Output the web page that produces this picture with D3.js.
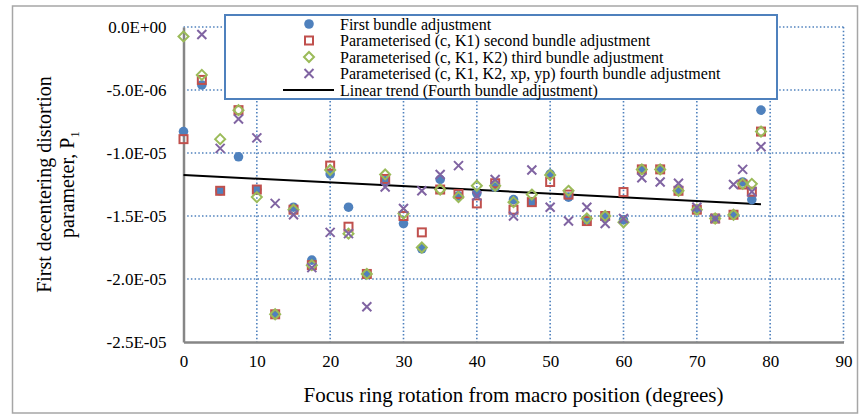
<!DOCTYPE html>
<html>
<head>
<meta charset="utf-8">
<script src="https://cdn.jsdelivr.net/npm/d3@7"></script>
<style>
  html, body { margin: 0; padding: 0; background: #fff; }
  svg { display: block; }
  text { font-family: "Liberation Serif", "Times New Roman", serif; fill: #000; }
</style>
</head>
<body>
<div id="chart"></div>
<script>
// ---- data (values in units of 1e-6 are scaled below) ----
const xValues = [0, 2.5, 5, 7.5, 10, 12.5, 15, 17.5, 20, 22.5, 25, 27.5, 30, 32.5, 35, 37.5, 40,
  42.5, 45, 47.5, 50, 52.5, 55, 57.5, 60, 62.5, 65, 67.5, 70, 72.5, 75, 76.25, 77.5, 78.75];

const firstBA = [-8.3, -4.6, -13.0, -10.3, -12.9, -22.8, -14.3, -18.5, -11.67, -14.3, -19.6, -12.2,
  -15.6, -17.6, -12.1, -13.4, -13.2, -12.7, -13.7, -13.9, -11.67, -13.5, -15.3, -15.0, -15.3,
  -11.3, -11.3, -13.0, -14.5, -15.2, -14.9, -12.3, -13.7, -6.6];

const secondBA = [-8.9, -4.2, -13.0, -6.6, -12.9, -22.8, -14.5, -18.9, -11.0, -15.85, -19.6, -12.06,
  -15.0, -16.3, -12.9, -13.25, -14.0, -12.4, -14.5, -13.9, -12.3, -13.3, -15.4, -15.0, -13.1,
  -11.3, -11.3, -13.0, -14.5, -15.2, -14.9, -12.5, -13.07, -8.3];

const thirdBA = [-0.75, -3.8, -8.9, -6.6, -13.5, -22.8, -14.5, -18.9, -11.35, -16.4, -19.6, -11.7,
  -14.8, -17.5, -12.9, -13.5, -12.6, -12.6, -13.9, -13.3, -11.75, -13.0, -15.2, -15.0, -15.5,
  -11.3, -11.3, -13.0, -14.5, -15.2, -14.9, -12.45, -12.45, -8.3];

const fourthBA = [null, -0.6, -9.63, -7.3, -8.8, -14.0, -14.9, -19.1, -16.3, -16.4, -22.2, -12.7,
  -14.4, -13.0, -11.7, -11.0, -13.4, -12.1, -15.0, -11.35, -14.3, -15.4, -14.3, -15.6, -15.2,
  -11.96, -12.3, -12.4, -14.3, -15.2, -12.5, -11.3, -13.07, -9.5];

const trendX = [0, 78.75];
const trendY = [-11.75, -14.07];

const seriesNames = [
  "First bundle adjustment",
  "Parameterised (c, K1) second bundle adjustment",
  "Parameterised (c, K1, K2) third bundle adjustment",
  "Parameterised (c, K1, K2, xp, yp) fourth bundle adjustment",
  "Linear trend (Fourth bundle adjustment)"
];

const yTicks = [0, -5e-6, -1e-5, -1.5e-5, -2e-5, -2.5e-5];
const yTickLabels = ["0.0E+00", "-5.0E-06", "-1.0E-05", "-1.5E-05", "-2.0E-05", "-2.5E-05"];
const xTicks = [0, 10, 20, 30, 40, 50, 60, 70, 80, 90];

const xTitle = "Focus ring rotation from macro position (degrees)";
const yTitle1 = "First decentering distortion";
const yTitle2 = "parameter, P";

// ---- layout ----
const W = 865, H = 415;
const plot = { left: 183.5, right: 843.5, top: 27, bottom: 342 };
const colors = { blue: "#4F81BD", red: "#C0504D", green: "#9BBB59", purple: "#8064A2", grid: "#4F81BD", axis: "#868686" };

const svg = d3.select("#chart").append("svg").attr("width", W).attr("height", H);

// outer border
svg.append("rect").attr("x", 12.5).attr("y", 6).attr("width", 845).attr("height", 407)
  .attr("fill", "#fff").attr("stroke", "#a6a6a6").attr("stroke-width", 1.5);

const x = d3.scaleLinear().domain([0, 90]).range([plot.left, plot.right]);
const y = d3.scaleLinear().domain([-2.5e-5, 0]).range([plot.bottom, plot.top]);

// gridlines
const grid = svg.append("g").attr("stroke", colors.grid).attr("stroke-width", 1.6)
  .attr("stroke-dasharray", "1.5,2.2").attr("fill", "none");
yTicks.filter(v => v > -2.5e-5).forEach(v => {
  grid.append("line").attr("x1", plot.left).attr("x2", plot.right).attr("y1", y(v)).attr("y2", y(v));
});
xTicks.filter(v => v > 0).forEach(v => {
  grid.append("line").attr("x1", x(v)).attr("x2", x(v)).attr("y1", plot.top).attr("y2", plot.bottom);
});

// axes (using d3 axes for labels)
const yAxis = d3.axisLeft(y).tickValues(yTicks).tickFormat((d, i) => yTickLabels[i]).tickSize(0).tickPadding(17);
const gy = svg.append("g").attr("transform", `translate(${plot.left},0)`).call(yAxis);
gy.select(".domain").attr("stroke", colors.axis).attr("stroke-width", 2.5);
gy.selectAll("text").attr("font-size", 17).attr("font-family", "Liberation Serif");

const xAxis = d3.axisBottom(x).tickValues(xTicks).tickFormat(d3.format("d")).tickSize(0).tickPadding(13);
const gx = svg.append("g").attr("transform", `translate(0,${plot.bottom})`).call(xAxis);
gx.select(".domain").attr("stroke", colors.axis).attr("stroke-width", 2.5);
gx.selectAll("text").attr("font-size", 17).attr("font-family", "Liberation Serif");

// trend line
const line = d3.line().x(d => x(d[0])).y(d => y(d[1] * 1e-6));
svg.append("path").datum(trendX.map((v, i) => [v, trendY[i]]))
  .attr("d", line).attr("stroke", "#000").attr("stroke-width", 2).attr("fill", "none");

// markers
const S = 1e-6;
function circle(g, cx, cy) {
  g.append("circle").attr("cx", cx).attr("cy", cy).attr("r", 4.8).attr("fill", colors.blue);
}
function square(g, cx, cy) {
  g.append("rect").attr("x", cx - 4).attr("y", cy - 4).attr("width", 8).attr("height", 8)
    .attr("fill", "none").attr("stroke", colors.red).attr("stroke-width", 2);
}
function diamond(g, cx, cy) {
  g.append("path").attr("d", `M${cx},${cy - 5}L${cx + 5},${cy}L${cx},${cy + 5}L${cx - 5},${cy}Z`)
    .attr("fill", "none").attr("stroke", colors.green).attr("stroke-width", 2);
}
function cross(g, cx, cy) {
  g.append("path").attr("d", `M${cx - 4.5},${cy - 4.5}L${cx + 4.5},${cy + 4.5}M${cx - 4.5},${cy + 4.5}L${cx + 4.5},${cy - 4.5}`)
    .attr("fill", "none").attr("stroke", colors.purple).attr("stroke-width", 2);
}
const series = [[firstBA, circle], [secondBA, square], [thirdBA, diamond], [fourthBA, cross]];
series.forEach(([vals, fn]) => {
  const g = svg.append("g");
  vals.forEach((v, i) => { if (v !== null) fn(g, x(xValues[i]), y(v * S)); });
});

// legend
const lg = svg.append("g");
lg.append("rect").attr("x", 225).attr("y", 15).attr("width", 552).attr("height", 84)
  .attr("fill", "#fff").attr("stroke", colors.blue).attr("stroke-width", 2);
const rowY = [24, 40.5, 57, 73.5, 90];
[circle, square, diamond, cross].forEach((fn, i) => fn(lg, 309, rowY[i]));
lg.append("line").attr("x1", 283).attr("x2", 334).attr("y1", rowY[4]).attr("y2", rowY[4])
  .attr("stroke", "#000").attr("stroke-width", 2);
seriesNames.forEach((n, i) => {
  lg.append("text").attr("x", 340).attr("y", rowY[i]).attr("dy", "0.35em")
    .attr("font-size", 16).text(n);
});

// axis titles
svg.append("text").attr("x", (plot.left + plot.right) / 2).attr("y", 402)
  .attr("text-anchor", "middle").attr("font-size", 21).text(xTitle);

const yt = svg.append("text").attr("transform", `translate(44,${(plot.top + plot.bottom) / 2}) rotate(-90)`)
  .attr("text-anchor", "middle").attr("font-size", 20);
yt.append("tspan").attr("x", 0).attr("dy", "0.35em").text(yTitle1);
const yt2 = svg.append("text").attr("transform", `translate(67,${(plot.top + plot.bottom) / 2}) rotate(-90)`)
  .attr("text-anchor", "middle").attr("font-size", 20);
yt2.append("tspan").attr("dy", "0.35em").text(yTitle2);
yt2.append("tspan").attr("font-size", 13).attr("dy", "0.35em").text("1");
</script>
</body>
</html>
